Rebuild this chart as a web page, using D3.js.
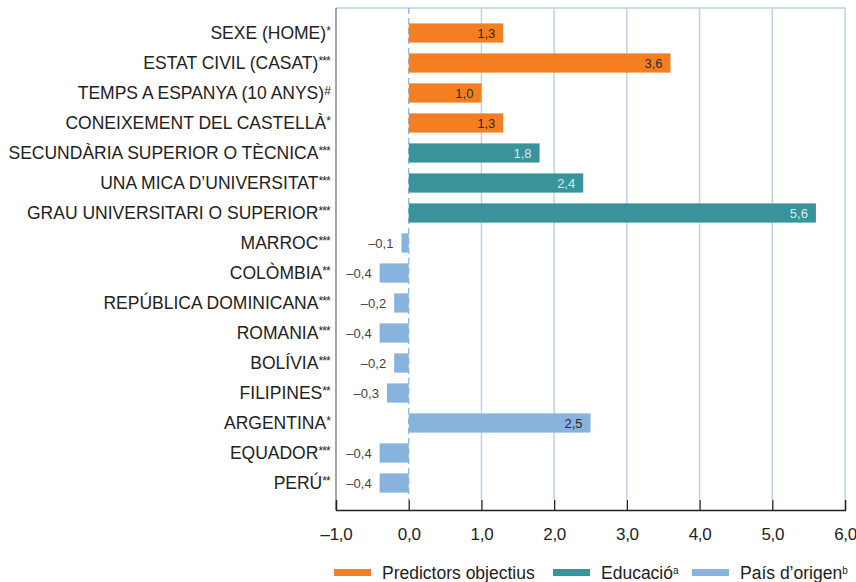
<!DOCTYPE html>
<html>
<head>
<meta charset="utf-8">
<script src="https://cdn.jsdelivr.net/npm/d3@7"></script>
<style>
  body { margin: 0; background: #fff; }
  svg text { font-family: "Liberation Sans", Arial, sans-serif; fill: #222; }
</style>
</head>
<body>
<svg id="chart" width="856" height="582"></svg>
<script>
// row labels, their significance marks, values and group
var labels = ["SEXE (HOME)", "ESTAT CIVIL (CASAT)", "TEMPS A ESPANYA (10 ANYS)", "CONEIXEMENT DEL CASTELLÀ",
  "SECUNDÀRIA SUPERIOR O TÈCNICA", "UNA MICA D\u2019UNIVERSITAT", "GRAU UNIVERSITARI O SUPERIOR",
  "MARROC", "COLÒMBIA", "REPÚBLICA DOMINICANA", "ROMANIA", "BOLÍVIA", "FILIPINES", "ARGENTINA", "EQUADOR", "PERÚ"];
var marks = ["*", "***", "#", "*", "***", "***", "***", "***", "**", "***", "***", "***", "**", "*", "***", "**"];
var values = [1.3, 3.6, 1.0, 1.3, 1.8, 2.4, 5.6, -0.1, -0.4, -0.2, -0.4, -0.2, -0.3, 2.5, -0.4, -0.4];
var groups = [0, 0, 0, 0, 1, 1, 1, 2, 2, 2, 2, 2, 2, 2, 2, 2];
var groupNames = ["Predictors objectius", "Educació", "País d\u2019origen"];
var groupSup = ["", "a", "b"];
var groupColors = ["#f47f22", "#38939a", "#87b3dc"];
var labelColors = ["#2a2a2a", "#dcebec", "#2a2a2a"];
var xTicks = [-1, 0, 1, 2, 3, 4, 5, 6];

var svg = d3.select("#chart");
var top_y = 8, axis_y = 510;

var x = d3.scaleLinear().domain([-1, 6]).range([336, 845]);
var y = d3.scaleBand().domain(labels).range([18, 498]).paddingInner(0.36).paddingOuter(0.18);

function fmt(v){
  return (v < 0 ? "\u2013" : "") + d3.format(".1f")(Math.abs(v)).replace(".", ",");
}

// top border and gridlines
svg.append("line")
  .attr("x1", x(-1)).attr("x2", x(6)).attr("y1", top_y).attr("y2", top_y)
  .attr("stroke", "#bcd3e8").attr("stroke-width", 1.5);
svg.selectAll(".grid").data(xTicks.filter(function(t){ return t > 0; })).enter()
  .append("line")
  .attr("x1", function(d){ return x(d); }).attr("x2", function(d){ return x(d); })
  .attr("y1", top_y).attr("y2", axis_y - 10)
  .attr("stroke", "#bcd3e8").attr("stroke-width", 1.5);
svg.append("line")
  .attr("x1", x(0)).attr("x2", x(0)).attr("y1", top_y).attr("y2", axis_y - 10)
  .attr("stroke", "#86b1da").attr("stroke-width", 1.2).attr("stroke-dasharray", "6,4");

// bars
svg.selectAll(".bar").data(values).enter()
  .append("rect")
  .attr("x", function(d){ return x(Math.min(0, d)); })
  .attr("y", function(d, i){ return y(labels[i]); })
  .attr("width", function(d){ return Math.abs(x(d) - x(0)); })
  .attr("height", y.bandwidth())
  .attr("fill", function(d, i){ return groupColors[groups[i]]; });

// value labels
svg.selectAll(".val").data(values).enter()
  .append("text")
  .attr("x", function(d){ return x(d) - 8; })
  .attr("y", function(d, i){ return y(labels[i]) + y.bandwidth() / 2; })
  .attr("dy", "0.36em")
  .attr("text-anchor", "end")
  .style("font-size", "13px")
  .style("fill", function(d, i){ return d < 0 ? "#444" : labelColors[groups[i]]; })
  .text(function(d){ return fmt(d); });

// category labels with superscript marks
var cat = svg.selectAll(".cat").data(labels).enter()
  .append("text")
  .attr("x", 330)
  .attr("y", function(d){ return y(d) + y.bandwidth() / 2; })
  .attr("dy", "0.36em")
  .attr("text-anchor", "end")
  .style("font-size", "17.5px");
cat.append("tspan").text(function(d){ return d; });
cat.append("tspan")
  .attr("dy", "-0.4em")
  .style("font-size", "12px")
  .style("letter-spacing", "-0.8px")
  .text(function(d, i){ return marks[i]; });

// left axis line
svg.append("line")
  .attr("x1", x(-1)).attr("x2", x(-1)).attr("y1", top_y).attr("y2", axis_y)
  .attr("stroke", "#777").attr("stroke-width", 1.3);

// bottom axis
var xAxis = d3.axisBottom(x).tickValues(xTicks).tickSize(-10).tickPadding(18).tickFormat(fmt);
var gx = svg.append("g").attr("transform", "translate(0," + axis_y + ")").call(xAxis);
gx.select(".domain").attr("stroke", "#222").attr("stroke-width", 1.3);
gx.selectAll(".tick line").attr("stroke", "#222").attr("stroke-width", 1.3);
gx.selectAll(".tick text")
  .style("font-size", "17px").style("fill", "#222")
  .style("font-family", "'Liberation Sans', Arial, sans-serif")
  .style("letter-spacing", "-0.3px");

// legend
var legendX = [334, 553, 692];
var lg = svg.selectAll(".lg").data(groupNames).enter()
  .append("g")
  .attr("transform", function(d, i){ return "translate(" + legendX[i] + ",569)"; });
lg.append("rect").attr("width", 37).attr("height", 7)
  .attr("fill", function(d, i){ return groupColors[i]; });
var lt = lg.append("text").attr("x", 48).attr("y", 9.5)
  .style("font-size", "17.5px");
lt.append("tspan").text(function(d){ return d; });
lt.append("tspan").attr("dy", "-0.5em").style("font-size", "10px")
  .text(function(d, i){ return groupSup[i]; });
</script>
</body>
</html>
